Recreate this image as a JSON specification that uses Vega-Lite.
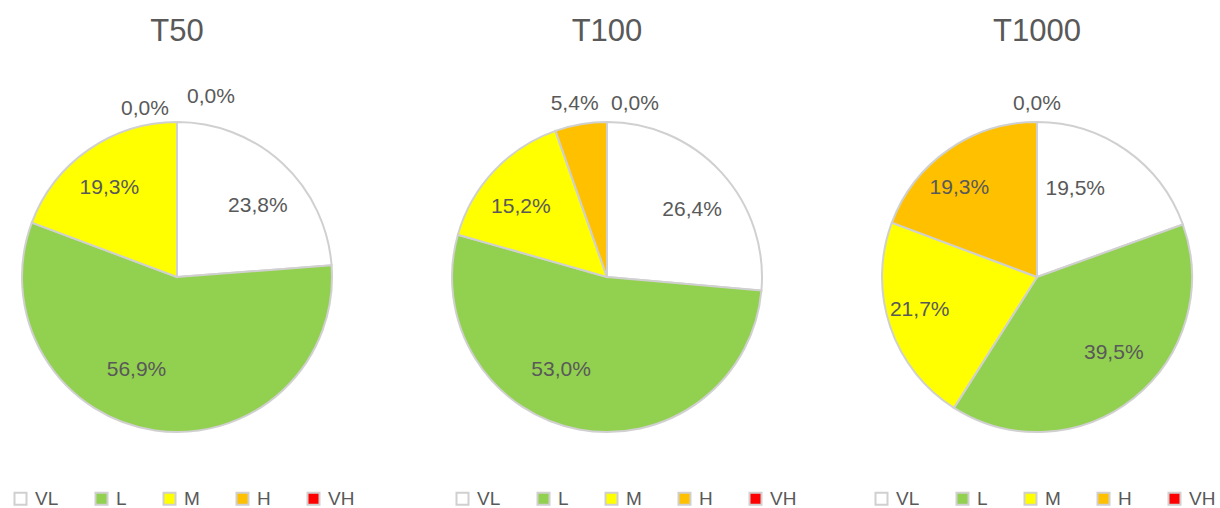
{
  "$schema": "https://vega.github.io/schema/vega-lite/v6.json",
  "background": "white",
  "padding": {"left": 0, "top": 16, "right": 0, "bottom": 0},
  "autosize": {"type": "pad"},
  "bounds": "flush",
  "datasets": {
    "d": [
      {"panel": "T50", "cat": "VL", "k": 1, "v": 23.8, "label": "23,8%"},
      {"panel": "T50", "cat": "L", "k": 2, "v": 56.9, "label": "56,9%"},
      {"panel": "T50", "cat": "M", "k": 3, "v": 19.3, "label": "19,3%"},
      {"panel": "T50", "cat": "H", "k": 4, "v": 0.0, "label": "0,0%"},
      {"panel": "T50", "cat": "VH", "k": 5, "v": 0.0, "label": "0,0%"},
      {"panel": "T100", "cat": "VL", "k": 1, "v": 26.4, "label": "26,4%"},
      {"panel": "T100", "cat": "L", "k": 2, "v": 53.0, "label": "53,0%"},
      {"panel": "T100", "cat": "M", "k": 3, "v": 15.2, "label": "15,2%"},
      {"panel": "T100", "cat": "H", "k": 4, "v": 5.4, "label": "5,4%"},
      {"panel": "T100", "cat": "VH", "k": 5, "v": 0.0, "label": "0,0%"},
      {"panel": "T1000", "cat": "VL", "k": 1, "v": 19.5, "label": "19,5%"},
      {"panel": "T1000", "cat": "L", "k": 2, "v": 39.5, "label": "39,5%"},
      {"panel": "T1000", "cat": "M", "k": 3, "v": 21.7, "label": "21,7%"},
      {"panel": "T1000", "cat": "H", "k": 4, "v": 19.3, "label": "19,3%"},
      {"panel": "T1000", "cat": "VH", "k": 5, "v": 0.0, "label": "0,0%"}
    ]
  },
  "config": {
    "view": {"stroke": null},
    "title": {"font": "Liberation Sans", "fontSize": 31, "fontWeight": "normal", "color": "#595959", "anchor": "middle", "offset": 23},
    "text": {"font": "Liberation Sans", "fontSize": 21, "fill": "#595959", "align": "center", "baseline": "middle"},
    "legend": {
      "orient": "none", "direction": "horizontal", "title": null,
      "symbolType": "square", "symbolSize": 144, "symbolStrokeColor": "#d0d0d0", "symbolStrokeWidth": 2,
      "labelFont": "Liberation Sans", "labelFontSize": 19, "labelColor": "#595959",
      "columnPadding": 32, "labelOffset": 5, "legendY": 418
    }
  },
  "spacing": 76,
  "resolve": {"scale": {"color": "independent", "theta": "independent"}, "legend": {"color": "independent"}},
  "hconcat": [
    {
      "title": "T50",
      "width": 354, "height": 412,
      "data": {"name": "d"},
      "transform": [{"filter": "datum.panel === 'T50'"}],
      "encoding": {
        "theta": {"field": "v", "type": "quantitative", "stack": true},
        "order": {"field": "k", "type": "quantitative"}
      },
      "layer": [
        {"mark": {"type": "arc", "radius": 155, "stroke": "#d0d0d0", "strokeWidth": 2},
         "encoding": {"color": {"field": "cat", "type": "nominal",
           "scale": {"domain": ["VL", "L", "M", "H", "VH"], "range": ["#ffffff", "#92d050", "#ffff00", "#ffc000", "#ff0000"]},
           "legend": {"legendX": 11}}}},
        {"mark": {"type": "text", "radius": 110, "dx": 6, "dy": 10},
         "encoding": {"text": {"condition": {"test": "datum.cat === 'VL'", "field": "label"}, "value": ""}}},
        {"mark": {"type": "text", "radius": 110, "dx": -25, "dy": -16},
         "encoding": {"text": {"condition": {"test": "datum.cat === 'L'", "field": "label"}, "value": ""}}},
        {"mark": {"type": "text", "radius": 110, "dx": -5, "dy": 1},
         "encoding": {"text": {"condition": {"test": "datum.cat === 'M'", "field": "label"}, "value": ""}}},
        {"mark": {"type": "text", "radius": 168, "dx": -32},
         "encoding": {"text": {"condition": {"test": "datum.cat === 'H'", "field": "label"}, "value": ""}}},
        {"mark": {"type": "text", "radius": 180, "dx": 34},
         "encoding": {"text": {"condition": {"test": "datum.cat === 'VH'", "field": "label"}, "value": ""}}}
      ]
    },
    {
      "title": "T100",
      "width": 354, "height": 412,
      "data": {"name": "d"},
      "transform": [{"filter": "datum.panel === 'T100'"}],
      "encoding": {
        "theta": {"field": "v", "type": "quantitative", "stack": true},
        "order": {"field": "k", "type": "quantitative"}
      },
      "layer": [
        {"mark": {"type": "arc", "radius": 155, "stroke": "#d0d0d0", "strokeWidth": 2},
         "encoding": {"color": {"field": "cat", "type": "nominal",
           "scale": {"domain": ["VL", "L", "M", "H", "VH"], "range": ["#ffffff", "#92d050", "#ffff00", "#ffc000", "#ff0000"]},
           "legend": {"legendX": 23}}}},
        {"mark": {"type": "text", "radius": 110, "dx": 4, "dy": 7},
         "encoding": {"text": {"condition": {"test": "datum.cat === 'VL'", "field": "label"}, "value": ""}}},
        {"mark": {"type": "text", "radius": 110, "dx": -26, "dy": -15},
         "encoding": {"text": {"condition": {"test": "datum.cat === 'L'", "field": "label"}, "value": ""}}},
        {"mark": {"type": "text", "radius": 110, "dx": -6, "dy": 5},
         "encoding": {"text": {"condition": {"test": "datum.cat === 'M'", "field": "label"}, "value": ""}}},
        {"mark": {"type": "text", "radius": 174, "dx": -3, "dy": -1},
         "encoding": {"text": {"condition": {"test": "datum.cat === 'H'", "field": "label"}, "value": ""}}},
        {"mark": {"type": "text", "radius": 173, "dx": 28},
         "encoding": {"text": {"condition": {"test": "datum.cat === 'VH'", "field": "label"}, "value": ""}}}
      ]
    },
    {
      "title": "T1000",
      "width": 354, "height": 412,
      "data": {"name": "d"},
      "transform": [{"filter": "datum.panel === 'T1000'"}],
      "encoding": {
        "theta": {"field": "v", "type": "quantitative", "stack": true},
        "order": {"field": "k", "type": "quantitative"}
      },
      "layer": [
        {"mark": {"type": "arc", "radius": 155, "stroke": "#d0d0d0", "strokeWidth": 2},
         "encoding": {"color": {"field": "cat", "type": "nominal",
           "scale": {"domain": ["VL", "L", "M", "H", "VH"], "range": ["#ffffff", "#92d050", "#ffff00", "#ffc000", "#ff0000"]},
           "legend": {"legendX": 12}}}},
        {"mark": {"type": "text", "radius": 110, "dx": -25, "dy": 2},
         "encoding": {"text": {"condition": {"test": "datum.cat === 'VL'", "field": "label"}, "value": ""}}},
        {"mark": {"type": "text", "radius": 110, "dx": 8, "dy": -10},
         "encoding": {"text": {"condition": {"test": "datum.cat === 'L'", "field": "label"}, "value": ""}}},
        {"mark": {"type": "text", "radius": 110, "dx": -13, "dy": -2},
         "encoding": {"text": {"condition": {"test": "datum.cat === 'M'", "field": "label"}, "value": ""}}},
        {"mark": {"type": "text", "radius": 110, "dx": -15, "dy": 1},
         "encoding": {"text": {"condition": {"test": "datum.cat === 'H'", "field": "label"}, "value": ""}}},
        {"mark": {"type": "text", "radius": 173},
         "encoding": {"text": {"condition": {"test": "datum.cat === 'VH'", "field": "label"}, "value": ""}}}
      ]
    }
  ]
}
